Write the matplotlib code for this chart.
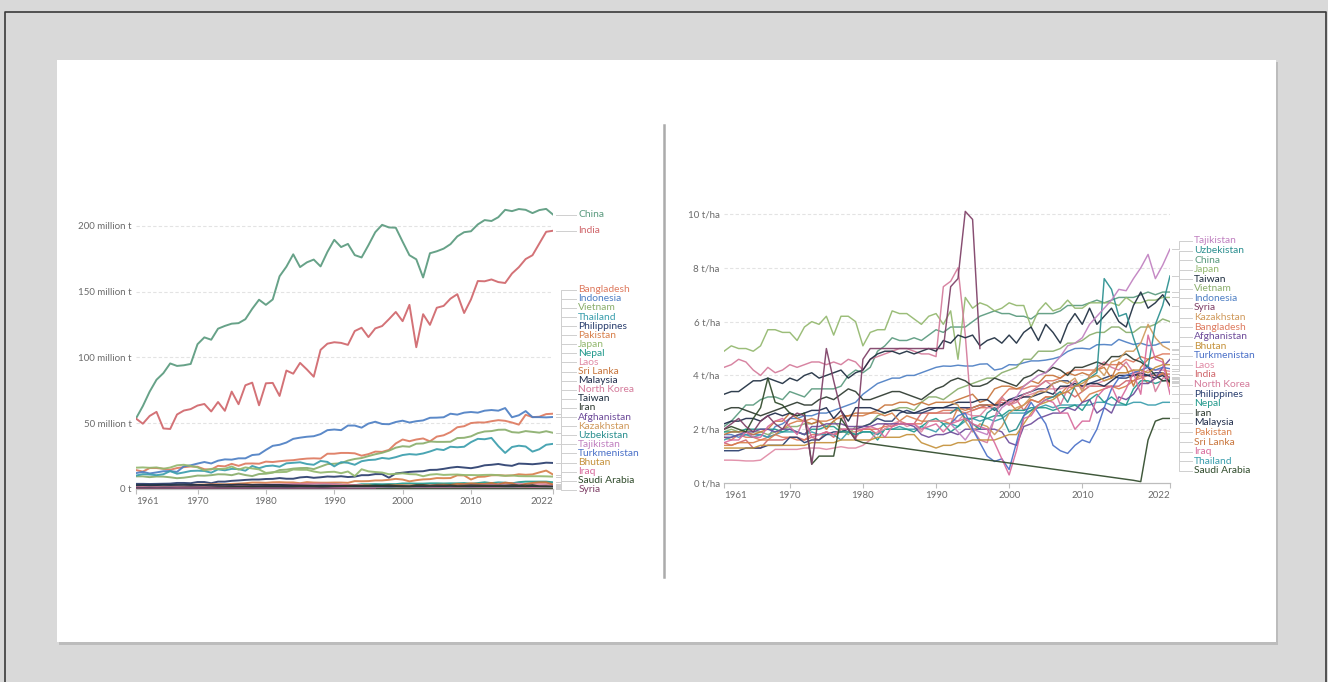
import numpy as np
import matplotlib
matplotlib.use('Agg')
import matplotlib.pyplot as plt
from matplotlib.patches import Rectangle
from matplotlib.lines import Line2D

plt.rcParams['font.family'] = ['Lato', 'DejaVu Sans']

YEARS = list(range(1961, 2023))
_ = None

# ---- rice production, million tonnes (1961 ... 2022) ----
prod_china = [53.6, 63.0, 74.0, 83.0, 88.0, 95.4, 93.5, 94.0, 95.0, 110.0,
              115.2, 113.4, 121.8, 123.9, 125.6, 126.0, 129.0, 136.9, 143.8, 139.9,
              144.0, 161.6, 168.9, 178.3, 168.6, 172.2, 174.3, 169.1, 180.1, 189.3,
              183.8, 186.2, 177.7, 175.9, 185.2, 195.1, 200.7, 198.7, 198.5, 187.9,
              177.6, 174.5, 160.7, 179.1, 180.6, 182.6, 186.0, 191.9, 195.1, 195.8,
              201.0, 204.3, 203.6, 206.5, 212.1, 211.1, 212.7, 212.1, 209.6, 211.9,
              212.8, 208.5]
prod_india = [53.5, 49.6, 55.5, 58.6, 46.0, 45.6, 56.6, 59.6, 60.7, 63.4,
              64.6, 58.9, 66.1, 59.4, 74.0, 64.4, 78.8, 80.8, 63.6, 80.3,
              80.6, 70.7, 90.0, 87.6, 95.8, 90.8, 85.3, 105.7, 110.4, 111.5,
              111.0, 109.5, 120.0, 122.5, 115.4, 122.0, 123.8, 129.0, 134.5, 127.5,
              139.9, 107.7, 132.8, 124.7, 137.7, 139.1, 144.6, 148.0, 133.7, 144.0,
              158.0, 157.8, 159.2, 157.2, 156.5, 163.7, 168.5, 174.7, 177.6, 186.5,
              195.4, 196.2]
prod_bangladesh = [14.4, 13.2, 15.9, 15.9, 15.4, 14.6, 15.9, 16.6, 17.1, 16.9,
                   15.0, 14.8, 17.6, 17.2, 19.1, 17.6, 19.3, 19.4, 19.2, 20.8,
                   20.5, 21.1, 21.6, 21.9, 22.6, 23.1, 23.3, 23.1, 26.8, 26.8,
                   27.4, 27.4, 27.1, 25.3, 26.5, 28.4, 28.2, 29.7, 34.6, 37.6,
                   36.3, 37.6, 38.4, 36.2, 39.8, 40.8, 43.2, 46.9, 47.7, 50.1,
                   50.6, 50.5, 51.5, 52.3, 51.8, 50.5, 48.9, 56.4, 54.6, 54.9,
                   56.9, 57.2]
prod_indonesia = [12.1, 13.0, 11.8, 12.6, 13.5, 13.6, 13.0, 17.2, 18.0, 19.3,
                  20.5, 19.4, 21.5, 22.5, 22.3, 23.3, 23.3, 25.8, 26.3, 29.7,
                  32.8, 33.6, 35.3, 38.1, 39.0, 39.7, 40.1, 41.7, 44.7, 45.2,
                  44.7, 48.2, 48.2, 46.6, 49.7, 51.1, 49.4, 49.2, 50.9, 51.9,
                  50.5, 51.5, 52.1, 54.1, 54.2, 54.5, 57.2, 56.5, 58.0, 58.5,
                  58.0, 59.5, 60.0, 59.5, 61.5, 54.5, 56.0, 59.2, 54.6, 54.6,
                  54.4, 54.7]
prod_vietnam = [9.6, 9.6, 9.0, 9.5, 9.4, 8.9, 8.2, 8.6, 9.3, 10.2,
                10.1, 10.5, 11.2, 11.1, 10.5, 11.8, 10.6, 9.8, 11.4, 11.6,
                12.4, 14.4, 14.7, 15.5, 15.9, 16.0, 15.1, 17.0, 18.9, 19.2,
                19.6, 21.6, 22.8, 23.5, 25.0, 26.4, 27.5, 29.1, 31.4, 32.5,
                32.1, 34.4, 34.6, 36.1, 35.8, 35.8, 35.9, 38.7, 38.9, 40.0,
                42.4, 43.7, 44.0, 45.0, 45.1, 43.2, 42.8, 44.0, 43.4, 42.8,
                43.9, 42.7]
prod_thailand = [10.2, 11.3, 11.0, 10.5, 11.2, 13.6, 11.6, 12.6, 13.7, 13.9,
                 13.7, 12.4, 14.9, 14.2, 15.3, 15.1, 13.9, 17.5, 15.8, 17.4,
                 17.8, 16.9, 19.5, 19.9, 20.3, 19.0, 18.4, 21.3, 20.6, 17.2,
                 20.4, 19.9, 18.4, 21.1, 22.0, 22.3, 23.6, 23.0, 24.2, 25.8,
                 26.5, 26.1, 27.0, 28.5, 30.3, 29.6, 32.1, 31.7, 32.1, 35.6,
                 38.1, 37.8, 38.8, 32.6, 27.4, 31.9, 32.9, 32.3, 28.4, 30.2,
                 33.6, 34.3]
prod_philippines = [3.9, 3.9, 3.8, 3.9, 4.0, 4.1, 4.6, 4.6, 4.4, 5.3,
                    5.3, 4.4, 5.6, 5.6, 6.2, 6.5, 6.9, 7.2, 7.2, 7.6,
                    7.7, 8.3, 7.8, 7.8, 8.8, 9.2, 8.5, 8.9, 9.5, 9.3,
                    9.7, 9.1, 9.4, 10.5, 10.5, 11.3, 11.3, 8.6, 11.8, 12.4,
                    13.0, 13.3, 13.5, 14.5, 14.6, 15.3, 16.2, 16.8, 16.3, 15.8,
                    16.7, 18.0, 18.4, 19.0, 18.1, 17.6, 19.3, 19.1, 18.8, 19.3,
                    20.0, 19.8]
prod_pakistan = [1.7, 1.7, 1.9, 1.9, 2.0, 2.0, 2.0, 2.4, 3.0, 3.3,
                 3.4, 3.5, 3.7, 3.5, 3.9, 4.1, 4.4, 4.9, 4.9, 4.7,
                 5.1, 5.2, 5.0, 5.0, 4.4, 5.2, 4.9, 4.8, 4.8, 4.9,
                 4.9, 4.7, 6.0, 5.9, 6.0, 6.5, 6.5, 7.0, 7.7, 7.2,
                 5.8, 6.7, 7.3, 7.5, 8.3, 8.2, 8.3, 10.4, 10.3, 7.2,
                 9.2, 9.4, 10.4, 10.5, 10.2, 10.3, 11.2, 10.8, 11.1, 12.6,
                 14.0, 11.0]
prod_japan = [16.2, 16.4, 16.1, 16.4, 15.4, 16.3, 18.0, 18.4, 17.5, 16.5,
              14.1, 15.3, 15.2, 15.4, 17.1, 14.7, 16.4, 15.6, 14.9, 12.2,
              12.8, 12.8, 13.0, 14.8, 14.6, 14.6, 13.3, 12.4, 12.9, 13.1,
              12.0, 13.3, 9.8, 15.0, 13.4, 12.9, 12.5, 11.2, 11.5, 11.9,
              11.3, 11.1, 9.7, 10.9, 11.3, 10.7, 10.9, 11.0, 10.6, 10.6,
              10.5, 10.7, 10.8, 10.5, 10.0, 10.3, 9.8, 9.7, 9.7, 9.7,
              9.6, 9.4]
prod_nepal = [2.0, 2.1, 2.1, 2.2, 2.2, 2.2, 2.2, 2.3, 2.2, 2.3,
              2.2, 2.1, 2.4, 2.4, 2.6, 2.6, 2.2, 2.3, 2.1, 2.5,
              2.5, 2.1, 2.8, 2.7, 2.8, 2.7, 2.4, 3.0, 3.4, 3.5,
              3.2, 2.6, 2.9, 3.6, 3.6, 3.7, 3.6, 3.7, 3.7, 4.2,
              4.2, 4.1, 4.1, 4.3, 4.3, 4.2, 4.3, 4.3, 4.5, 4.0,
              4.5, 5.1, 4.5, 5.0, 4.8, 4.3, 5.2, 5.6, 5.6, 5.6,
              5.6, 5.1]
prod_laos = [0.5, 0.5, 0.5, 0.5, 0.6, 0.6, 0.8, 0.9, 0.9, 0.9,
             0.8, 0.8, 0.9, 0.9, 0.7, 0.7, 0.7, 0.8, 0.9, 1.0,
             1.1, 1.1, 1.0, 1.3, 1.3, 1.4, 1.2, 1.0, 1.2, 1.5,
             1.2, 1.4, 1.3, 1.6, 1.4, 1.4, 1.7, 1.7, 2.1, 2.2,
             2.3, 2.4, 2.4, 2.5, 2.6, 2.7, 2.7, 2.9, 3.1, 3.1,
             3.1, 3.5, 3.4, 4.0, 4.1, 4.1, 4.0, 3.6, 3.6, 3.8,
             3.8, 3.6]
prod_srilanka = [0.9, 1.0, 1.0, 1.0, 0.8, 1.0, 1.1, 1.4, 1.4, 1.6,
                 1.4, 1.3, 1.3, 1.6, 1.2, 1.3, 1.7, 1.9, 1.9, 2.1,
                 2.2, 2.2, 2.5, 2.4, 2.7, 2.6, 2.1, 2.5, 2.1, 2.5,
                 2.4, 2.3, 2.6, 2.7, 2.8, 2.1, 2.2, 2.7, 2.9, 2.9,
                 2.7, 2.9, 3.1, 2.6, 3.2, 3.3, 3.1, 3.9, 3.7, 4.3,
                 3.9, 3.8, 4.6, 3.4, 4.8, 4.4, 2.4, 3.9, 4.6, 5.1,
                 5.1, 3.4]
prod_malaysia = [1.1, 1.1, 1.1, 1.2, 1.2, 1.2, 1.3, 1.4, 1.6, 1.7,
                 1.8, 1.8, 1.9, 2.0, 2.0, 1.7, 1.9, 1.5, 2.1, 2.0,
                 2.1, 1.8, 1.6, 1.7, 1.8, 1.7, 1.7, 1.7, 1.8, 1.9,
                 1.9, 2.0, 2.1, 2.1, 2.1, 2.2, 2.1, 1.9, 2.0, 2.1,
                 2.1, 2.2, 2.3, 2.3, 2.3, 2.2, 2.4, 2.4, 2.5, 2.5,
                 2.6, 2.6, 2.6, 2.6, 2.7, 2.7, 2.6, 2.6, 2.3, 2.3,
                 2.4, 2.3]
prod_northkorea = [1.5, 1.6, 1.8, 1.7, 1.9, 1.9, 2.1, 2.0, 2.2, 2.3,
                   2.3, 2.5, 2.6, 2.6, 2.8, 2.9, 3.1, 3.0, 3.2, 3.3,
                   3.4, 3.5, 3.6, 3.8, 3.9, 3.9, 4.0, 4.1, 4.0, 3.7,
                   3.4, 3.2, 3.0, 2.8, 1.5, 1.4, 1.5, 2.1, 2.3, 1.7,
                   2.1, 2.2, 2.3, 2.4, 2.5, 2.4, 1.9, 2.2, 2.5, 2.4,
                   2.4, 2.7, 2.9, 2.6, 2.5, 2.6, 2.3, 2.3, 2.1, 2.1,
                   2.1, 2.0]
prod_taiwan = [2.9, 3.0, 2.9, 3.0, 3.2, 3.1, 3.2, 3.3, 3.1, 3.1,
               3.0, 3.1, 3.1, 3.2, 3.1, 3.4, 3.3, 3.1, 3.2, 3.1,
               3.1, 3.1, 2.9, 2.7, 2.6, 2.5, 2.5, 2.3, 2.3, 2.3,
               2.3, 2.1, 2.3, 2.1, 2.1, 2.1, 2.1, 1.9, 2.0, 1.9,
               1.7, 1.8, 1.6, 1.4, 1.5, 1.6, 1.4, 1.5, 1.6, 1.5,
               1.7, 1.7, 1.6, 1.7, 1.6, 1.6, 1.8, 1.6, 1.7, 1.6,
               1.5, 1.6]
prod_iran = [0.8, 0.8, 0.9, 0.9, 1.0, 1.0, 1.0, 1.1, 1.2, 1.1,
             1.0, 1.1, 1.3, 1.4, 1.5, 1.7, 1.6, 1.5, 1.4, 1.3,
             1.5, 1.4, 1.2, 1.5, 1.8, 1.8, 1.8, 1.4, 1.7, 2.0,
             2.3, 2.4, 2.5, 2.3, 2.3, 2.7, 2.6, 2.8, 2.3, 1.9,
             2.0, 2.9, 2.9, 2.5, 2.7, 2.6, 2.7, 2.2, 2.3, 2.7,
             2.4, 2.4, 2.5, 2.3, 2.3, 2.8, 2.4, 2.2, 2.9, 2.0,
             2.0, 1.5]
prod_afghanistan = [0.32, 0.32, 0.33, 0.35, 0.36, 0.38, 0.40, 0.38, 0.40, 0.42,
                    0.38, 0.36, 0.42, 0.44, 0.44, 0.45, 0.46, 0.43, 0.44, 0.45,
                    0.45, 0.46, 0.45, 0.45, 0.44, 0.42, 0.40, 0.35, 0.33, 0.33,
                    0.32, 0.33, 0.34, 0.40, 0.42, 0.45, 0.46, 0.45, 0.29, 0.23,
                    0.19, 0.39, 0.43, 0.39, 0.46, 0.53, 0.55, 0.64, 0.63, 0.67,
                    0.67, 0.51, 0.51, 0.51, 0.41, 0.36, 0.35, 0.35, 0.38, 0.45,
                    0.46, 0.50]
prod_kazakhstan = [_] * 31 + [
                   0.50, 0.52, 0.36, 0.22, 0.29, 0.26, 0.20, 0.21, 0.20,
                   0.20, 0.22, 0.29, 0.30, 0.36, 0.33, 0.36, 0.37, 0.39, 0.31,
                   0.35, 0.39, 0.34, 0.41, 0.46, 0.48, 0.48, 0.51, 0.47, 0.56,
                   0.50, 0.45]
prod_uzbekistan = [_] * 31 + [
                   0.52, 0.53, 0.52, 0.38, 0.35, 0.40, 0.42, 0.26, 0.15,
                   0.12, 0.18, 0.17, 0.20, 0.23, 0.22, 0.22, 0.17, 0.22, 0.19,
                   0.15, 0.25, 0.33, 0.34, 0.36, 0.40, 0.36, 0.12, 0.30, 0.35,
                   0.33, 0.33]
prod_tajikistan = [_] * 31 + [
                   0.04, 0.03, 0.02, 0.04, 0.04, 0.03, 0.03, 0.04, 0.05,
                   0.05, 0.05, 0.05, 0.06, 0.06, 0.06, 0.06, 0.08, 0.08, 0.09,
                   0.08, 0.08, 0.08, 0.09, 0.09, 0.09, 0.10, 0.11, 0.12, 0.13,
                   0.13, 0.12]
prod_turkmenistan = [_] * 31 + [
                     0.04, 0.07, 0.09, 0.10, 0.13, 0.08, 0.05, 0.04, 0.04,
                     0.05, 0.06, 0.07, 0.09, 0.10, 0.10, 0.11, 0.12, 0.12, 0.13,
                     0.13, 0.14, 0.12, 0.11, 0.10, 0.10, 0.10, 0.09, 0.09, 0.09,
                     0.09, 0.09]
prod_bhutan = [0.03, 0.03, 0.03, 0.03, 0.03, 0.04, 0.04, 0.04, 0.04, 0.04,
               0.04, 0.04, 0.04, 0.05, 0.05, 0.05, 0.05, 0.05, 0.06, 0.06,
               0.06, 0.06, 0.06, 0.06, 0.07, 0.07, 0.07, 0.05, 0.05, 0.05,
               0.05, 0.05, 0.05, 0.05, 0.05, 0.05, 0.05, 0.05, 0.05, 0.05,
               0.04, 0.04, 0.04, 0.05, 0.06, 0.06, 0.07, 0.07, 0.07, 0.07,
               0.08, 0.08, 0.08, 0.08, 0.08, 0.08, 0.07, 0.06, 0.06, 0.05,
               0.05, 0.06]
prod_iraq = [0.12, 0.14, 0.15, 0.22, 0.18, 0.18, 0.30, 0.31, 0.32, 0.26,
             0.20, 0.29, 0.16, 0.17, 0.19, 0.16, 0.20, 0.17, 0.17, 0.17,
             0.16, 0.16, 0.10, 0.13, 0.15, 0.13, 0.14, 0.11, 0.13, 0.23,
             0.19, 0.39, 0.34, 0.37, 0.35, 0.34, 0.29, 0.15, 0.07, 0.12,
             0.13, 0.26, 0.28, 0.38, 0.41, 0.38, 0.36, 0.21, 0.19, 0.16,
             0.24, 0.36, 0.45, 0.40, 0.17, 0.19, 0.39, 0.21, 0.56, 0.33,
             0.12, 0.04]
prod_saudi = [0.002, 0.002, 0.002, 0.002, 0.003, 0.003, 0.003, 0.003, 0.003, 0.003,
              0.002, 0.002, 0.001, 0.002, 0.002, 0.002, 0.002, 0.002, 0.002, 0.002,
              0.002, 0.002, 0.002, 0.002, 0.002, 0.002, 0.002, 0.002, 0.002, 0.002,
              0.002, 0.002, 0.002, 0.002, 0.002, 0.002, 0.002, 0.002, 0.002, 0.002,
              0.002, 0.002, 0.002, 0.002, 0.002, 0.002, 0.002, 0.002, 0.002, 0.002,
              0.002, 0.002, 0.002, 0.002, 0.002, 0.002, 0.001, 0.001, 0.002, 0.002,
              0.002, 0.002]
prod_syria = [0.001, 0.001, 0.001, 0.001, 0.001, 0.001, 0.001, 0.001, 0.001, 0.001,
              0.001, 0.001, 0.001, 0.001, 0.001, 0.001, 0.001, 0.001, 0.001, 0.001,
              0.001, 0.001, 0.001, 0.001, 0.001, 0.001, 0.001, 0.001, 0.001, 0.001,
              0.001, 0.001, 0.001, 0.001, 0.001, 0.001] + [_] * 26

# ---- rice yield, tonnes per hectare (1961 ... 2022) ----
yield_china = [2.1, 2.3, 2.6, 2.9, 2.9, 3.1, 3.2, 3.2, 3.1, 3.4,
               3.3, 3.2, 3.5, 3.5, 3.5, 3.5, 3.6, 4.0, 4.2, 4.1,
               4.3, 4.9, 5.1, 5.4, 5.3, 5.3, 5.4, 5.3, 5.5, 5.7,
               5.6, 5.8, 5.8, 5.8, 6.0, 6.2, 6.3, 6.4, 6.3, 6.3,
               6.2, 6.2, 6.1, 6.3, 6.3, 6.3, 6.4, 6.6, 6.6, 6.6,
               6.7, 6.8, 6.7, 6.8, 6.9, 6.9, 6.9, 7.0, 7.1, 7.0,
               7.1, 7.1]
yield_japan = [4.9, 5.1, 5.0, 5.0, 4.9, 5.1, 5.7, 5.7, 5.6, 5.6,
               5.3, 5.8, 6.0, 5.9, 6.2, 5.5, 6.2, 6.2, 6.0, 5.1,
               5.6, 5.7, 5.7, 6.4, 6.3, 6.3, 6.1, 5.9, 6.2, 6.3,
               5.9, 6.4, 4.6, 6.9, 6.5, 6.7, 6.6, 6.4, 6.5, 6.7,
               6.6, 6.6, 5.8, 6.4, 6.7, 6.4, 6.5, 6.8, 6.5, 6.5,
               6.7, 6.7, 6.7, 6.7, 6.6, 6.9, 6.7, 6.7, 6.8, 6.8,
               6.9, 6.9]
yield_taiwan = [3.3, 3.4, 3.4, 3.6, 3.8, 3.8, 3.9, 3.8, 3.7, 3.9,
                3.8, 4.0, 4.1, 3.9, 4.0, 4.1, 4.2, 3.9, 4.1, 4.2,
                4.6, 4.8, 4.9, 4.9, 4.8, 4.9, 4.8, 4.9, 5.0, 4.9,
                5.3, 5.2, 5.5, 5.4, 5.5, 5.1, 5.3, 5.4, 5.2, 5.5,
                5.2, 5.6, 5.8, 5.3, 5.9, 5.6, 5.2, 5.9, 6.3, 5.9,
                6.5, 5.9, 6.2, 6.5, 6.0, 5.8, 6.6, 7.1, 6.5, 6.7,
                7.0, 6.6]
yield_vietnam = [1.9, 2.0, 1.9, 2.0, 1.9, 1.9, 1.8, 1.9, 2.0, 2.1,
                 2.1, 2.2, 2.2, 2.3, 2.1, 2.3, 2.0, 1.8, 2.1, 2.1,
                 2.2, 2.5, 2.6, 2.7, 2.8, 2.8, 2.7, 3.0, 3.2, 3.2,
                 3.1, 3.3, 3.5, 3.6, 3.7, 3.8, 3.9, 3.9, 4.1, 4.2,
                 4.3, 4.6, 4.6, 4.9, 4.9, 4.9, 5.0, 5.2, 5.2, 5.3,
                 5.5, 5.6, 5.6, 5.8, 5.8, 5.6, 5.6, 5.8, 5.8, 5.9,
                 6.1, 6.0]
yield_indonesia = [1.8, 1.8, 1.7, 1.8, 1.8, 1.8, 1.7, 2.1, 2.2, 2.4,
                   2.4, 2.5, 2.5, 2.6, 2.6, 2.7, 2.8, 2.9, 3.0, 3.3,
                   3.5, 3.7, 3.8, 3.9, 3.9, 4.0, 4.0, 4.1, 4.2, 4.3,
                   4.35, 4.34, 4.38, 4.35, 4.35, 4.42, 4.43, 4.2, 4.25, 4.4,
                   4.39, 4.47, 4.54, 4.54, 4.57, 4.62, 4.7, 4.89, 5.0, 5.01,
                   4.98, 5.14, 5.15, 5.13, 5.34, 5.24, 5.15, 5.2, 5.11, 5.13,
                   5.23, 5.24]
yield_tajikistan = [_] * 31 + [
                    2.2, 1.9, 1.6, 2.0, 1.9, 1.8, 2.4, 2.8, 3.0,
                    3.2, 3.6, 3.8, 4.0, 4.1, 4.4, 4.7, 5.1, 5.2, 5.4,
                    5.9, 6.2, 6.5, 6.8, 7.2, 7.15, 7.6, 8.0, 8.5, 7.6,
                    8.1, 8.7]
yield_uzbekistan = [_] * 31 + [
                    2.6, 2.8, 2.4, 2.2, 2.0, 2.6, 2.8, 2.5, 1.9,
                    2.0, 2.5, 2.7, 2.9, 3.1, 3.2, 3.4, 3.0, 3.6, 3.8,
                    3.9, 4.1, 7.6, 7.2, 6.2, 6.3, 5.4, 4.6, 4.3, 5.9,
                    6.6, 7.7]
yield_syria = [2.0, 2.2, 2.4, 2.1, 1.9, 2.3, 2.5, 2.2, 2.0, 2.4,
               2.6, 2.5, 0.7, 2.6, 5.0, 3.8, 2.7, 2.0, 1.6, 4.6,
               5.0, 5.0, 5.0, 5.0, 5.0, 5.0, 5.0, 5.0, 5.0, 5.0,
               5.0, 7.3, 7.6, 10.1, 9.8, 5.0] + [_] * 26
yield_kazakhstan = [_] * 31 + [
                    3.0, 2.9, 2.3, 1.9, 2.2, 2.1, 1.8, 2.1, 2.6,
                    2.8, 2.9, 3.2, 3.4, 3.4, 3.7, 3.8, 3.7, 3.9, 3.4,
                    4.0, 4.3, 4.0, 4.5, 4.6, 4.9, 4.9, 5.2, 5.9, 5.4,
                    5.1, 4.95]
yield_bangladesh = [1.7, 1.6, 1.8, 1.7, 1.7, 1.6, 1.7, 1.8, 1.7, 1.7,
                    1.6, 1.6, 1.8, 1.8, 1.9, 1.8, 1.9, 1.9, 1.9, 2.0,
                    2.0, 2.0, 2.1, 2.1, 2.2, 2.2, 2.2, 2.2, 2.6, 2.6,
                    2.7, 2.7, 2.7, 2.6, 2.7, 2.8, 2.8, 2.9, 3.2, 3.5,
                    3.5, 3.5, 3.6, 3.6, 3.8, 3.8, 3.9, 4.1, 4.2, 4.2,
                    4.2, 4.2, 4.4, 4.4, 4.4, 4.6, 4.5, 4.7, 4.6, 4.7,
                    4.8, 4.8]
yield_afghanistan = [1.7, 1.7, 1.8, 1.9, 1.9, 2.0, 2.0, 1.9, 2.0, 2.0,
                     1.9, 1.8, 2.1, 2.1, 2.2, 2.2, 2.2, 2.1, 2.1, 2.1,
                     2.1, 2.2, 2.2, 2.2, 2.2, 2.2, 2.1, 1.8, 1.7, 1.8,
                     1.8, 1.9, 1.8, 2.0, 2.0, 2.0, 2.0, 2.0, 1.9, 1.5,
                     1.4, 2.1, 2.2, 2.4, 2.5, 2.6, 2.6, 2.8, 2.7, 3.0,
                     3.1, 2.6, 2.8, 2.6, 3.2, 3.1, 3.3, 3.7, 3.7, 3.9,
                     4.3, 4.6]
yield_bhutan = [1.3, 1.3, 1.3, 1.3, 1.3, 1.4, 1.4, 1.4, 1.4, 1.4,
                1.4, 1.4, 1.5, 1.5, 1.5, 1.5, 1.6, 1.6, 1.6, 1.6,
                1.6, 1.7, 1.7, 1.7, 1.7, 1.8, 1.8, 1.5, 1.4, 1.3,
                1.4, 1.4, 1.5, 1.5, 1.6, 1.6, 1.6, 1.6, 1.7, 1.8,
                1.8, 2.2, 2.6, 2.9, 3.0, 3.1, 3.3, 3.4, 3.6, 3.7,
                3.9, 4.0, 3.8, 3.9, 4.1, 4.1, 4.2, 4.2, 4.1, 4.3,
                4.4, 4.4]
yield_turkmenistan = [_] * 31 + [
                      2.2, 2.5, 2.6, 2.0, 1.5, 1.0, 0.8, 0.9, 0.5,
                      1.5, 2.5, 3.0, 2.6, 2.2, 1.4, 1.2, 1.1, 1.4, 1.6,
                      1.5, 2.0, 2.8, 3.5, 3.9, 4.0, 4.1, 4.2, 4.3, 4.2,
                      4.3, 4.25]
yield_laos = [0.85, 0.85, 0.84, 0.82, 0.82, 0.85, 1.05, 1.25, 1.25, 1.25,
              1.25, 1.3, 1.3, 1.3, 1.25, 1.3, 1.35, 1.3, 1.3, 1.4,
              1.6, 1.9, 2.0, 2.2, 2.3, 2.1, 2.2, 1.9, 2.3, 2.3,
              2.3, 2.4, 2.3, 2.6, 2.5, 2.5, 2.8, 2.8, 2.9, 3.0,
              3.1, 3.2, 3.3, 3.4, 3.5, 3.5, 3.5, 3.6, 3.6, 3.6,
              3.6, 3.7, 3.8, 3.9, 4.1, 4.1, 4.2, 4.0, 4.2, 4.2,
              4.2, 4.15]
yield_india = [1.5, 1.4, 1.5, 1.6, 1.3, 1.3, 1.6, 1.6, 1.6, 1.7,
               1.7, 1.6, 1.7, 1.6, 1.9, 1.7, 2.0, 2.0, 1.7, 2.0,
               2.0, 1.8, 2.2, 2.1, 2.3, 2.2, 2.2, 2.6, 2.6, 2.6,
               2.6, 2.6, 2.8, 2.8, 2.7, 2.8, 2.9, 2.9, 3.0, 2.9,
               3.1, 2.7, 3.1, 3.0, 3.2, 3.2, 3.3, 3.4, 3.2, 3.4,
               3.6, 3.6, 3.6, 3.6, 3.6, 3.8, 3.8, 3.9, 4.0, 4.0,
               4.05, 4.05]
yield_northkorea = [4.3, 4.4, 4.6, 4.5, 4.2, 4.0, 4.3, 4.1, 4.2, 4.4,
                    4.3, 4.4, 4.5, 4.5, 4.4, 4.5, 4.4, 4.6, 4.5, 4.2,
                    4.6, 4.7, 4.8, 4.9, 5.0, 5.0, 4.9, 4.8, 4.8, 4.7,
                    7.3, 7.5, 8.0, 5.5, 2.0, 1.6, 1.5, 2.4, 3.2, 2.9,
                    3.0, 3.3, 3.4, 3.6, 3.8, 3.6, 2.9, 3.5, 3.8, 3.5,
                    4.0, 4.3, 4.5, 4.3, 4.2, 4.5, 4.1, 4.1, 4.4, 3.4,
                    3.9, 3.95]
yield_philippines = [1.2, 1.2, 1.2, 1.3, 1.3, 1.3, 1.4, 1.4, 1.4, 1.7,
                     1.7, 1.5, 1.6, 1.6, 1.8, 1.9, 1.9, 2.0, 2.0, 2.1,
                     2.2, 2.4, 2.3, 2.3, 2.6, 2.7, 2.6, 2.6, 2.7, 2.8,
                     2.8, 2.8, 2.8, 2.8, 2.8, 2.9, 2.9, 2.7, 2.9, 3.1,
                     3.2, 3.3, 3.4, 3.5, 3.5, 3.7, 3.8, 3.8, 3.6, 3.6,
                     3.7, 3.8, 3.9, 4.0, 3.9, 3.9, 4.0, 4.0, 4.0, 4.1,
                     4.1, 3.9]
yield_nepal = [1.9, 1.9, 1.9, 2.0, 2.0, 2.0, 2.0, 2.0, 1.9, 2.0,
               1.9, 1.8, 2.0, 2.0, 2.1, 2.1, 1.9, 1.9, 1.8, 1.9,
               1.9, 1.6, 2.0, 2.0, 2.0, 2.0, 1.9, 2.1, 2.3, 2.4,
               2.2, 1.9, 2.1, 2.4, 2.4, 2.5, 2.4, 2.5, 2.5, 2.7,
               2.7, 2.7, 2.8, 2.8, 2.8, 2.7, 2.8, 2.8, 2.9, 2.7,
               3.1, 3.3, 3.0, 3.2, 3.0, 2.9, 3.5, 3.8, 3.8, 3.7,
               3.8, 3.85]
yield_iran = [2.7, 2.8, 2.8, 2.7, 2.6, 2.5, 2.6, 2.7, 2.8, 2.9,
              3.0, 2.9, 2.9, 3.1, 3.2, 3.1, 3.3, 3.5, 3.4, 3.1,
              3.1, 3.2, 3.3, 3.4, 3.4, 3.3, 3.2, 3.1, 3.3, 3.5,
              3.6, 3.8, 3.9, 3.8, 3.6, 3.6, 3.7, 3.9, 3.8, 3.7,
              3.6, 3.9, 4.0, 4.2, 4.1, 4.3, 4.2, 4.0, 4.3, 4.3,
              4.4, 4.5, 4.4, 4.7, 4.7, 4.8, 4.6, 4.5, 4.3, 4.0,
              3.8, 3.8]
yield_malaysia = [2.2, 2.3, 2.3, 2.4, 2.4, 2.3, 2.5, 2.6, 2.5, 2.6,
                  2.5, 2.6, 2.7, 2.7, 2.8, 2.4, 2.7, 2.3, 2.8, 2.8,
                  2.8, 2.7, 2.6, 2.7, 2.7, 2.6, 2.6, 2.7, 2.8, 2.8,
                  2.8, 2.9, 3.0, 3.0, 3.0, 3.1, 3.1, 2.9, 2.9, 3.1,
                  3.1, 3.2, 3.2, 3.3, 3.4, 3.3, 3.6, 3.6, 3.7, 3.6,
                  3.7, 3.7, 3.6, 3.8, 4.0, 4.0, 4.0, 4.1, 4.0, 3.9,
                  4.0, 3.75]
yield_pakistan = [1.4, 1.4, 1.5, 1.5, 1.5, 1.6, 1.6, 1.8, 2.0, 2.2,
                  2.3, 2.3, 2.4, 2.3, 2.3, 2.4, 2.4, 2.5, 2.5, 2.5,
                  2.6, 2.6, 2.5, 2.6, 2.3, 2.5, 2.4, 2.3, 2.3, 2.3,
                  2.3, 2.2, 2.8, 2.7, 2.8, 2.9, 2.9, 2.9, 3.1, 3.0,
                  2.7, 2.9, 3.1, 3.0, 3.2, 3.2, 3.3, 3.6, 3.5, 3.0,
                  3.3, 3.4, 3.5, 3.6, 3.5, 3.6, 3.8, 4.0, 3.7, 3.9,
                  4.1, 3.7]
yield_srilanka = [1.8, 1.9, 1.9, 1.9, 1.8, 1.9, 2.0, 2.3, 2.3, 2.6,
                  2.4, 2.3, 2.2, 2.3, 2.0, 2.3, 2.5, 2.5, 2.6, 2.6,
                  2.6, 2.7, 2.9, 2.9, 3.0, 3.0, 2.9, 3.0, 2.9, 3.0,
                  3.0, 3.0, 3.1, 3.2, 3.3, 3.0, 3.1, 3.5, 3.6, 3.6,
                  3.5, 3.6, 3.8, 3.7, 4.0, 4.0, 3.9, 4.1, 4.0, 4.1,
                  4.0, 4.2, 4.3, 3.9, 4.5, 4.3, 3.6, 4.3, 4.6, 4.7,
                  4.6, 3.6]
yield_iraq = [1.5, 1.6, 1.6, 1.9, 1.7, 1.7, 2.1, 2.3, 2.4, 2.1,
              1.8, 2.4, 1.7, 1.8, 1.9, 1.8, 2.0, 2.0, 2.0, 2.0,
              2.1, 2.0, 1.7, 2.1, 2.2, 2.2, 2.2, 2.0, 2.1, 2.2,
              1.9, 2.2, 2.3, 2.4, 2.2, 2.1, 2.0, 1.5, 0.9, 0.3,
              1.2, 2.4, 2.5, 2.9, 3.1, 3.0, 2.6, 2.6, 2.0, 2.3,
              2.3, 3.2, 3.5, 3.6, 3.0, 3.5, 4.1, 3.3, 5.5, 4.6,
              4.5, 3.3]
yield_thailand = [1.6, 1.7, 1.8, 1.8, 1.7, 1.8, 1.7, 1.8, 1.9, 1.9,
                  1.9, 1.8, 1.9, 1.8, 1.8, 1.8, 1.6, 1.9, 1.8, 1.9,
                  1.9, 1.8, 2.0, 2.0, 2.1, 2.0, 2.0, 2.1, 2.0, 1.9,
                  2.2, 2.2, 2.1, 2.3, 2.4, 2.3, 2.4, 2.3, 2.4, 2.6,
                  2.6, 2.6, 2.7, 2.8, 2.9, 2.8, 2.9, 2.9, 2.9, 2.9,
                  2.9, 3.0, 3.0, 2.9, 2.9, 2.9, 3.0, 3.0, 2.9, 2.9,
                  3.0, 3.0]
yield_saudi = [2.0, 2.1, 2.0, 1.9, 2.4, 2.8, 3.9, 3.0, 2.9, 2.6,
               2.5, 2.6, 0.7, 1.0, 1.0, 1.0, 2.4, 2.0, 1.6, 1.5] + [_] * 36 + [
               0.1, 0.05, 1.6, 2.3, 2.4, 2.4]

COUNTRIES = ['China', 'India', 'Bangladesh', 'Indonesia', 'Vietnam', 'Thailand',
             'Philippines', 'Pakistan', 'Japan', 'Nepal', 'Laos', 'Sri Lanka',
             'Malaysia', 'North Korea', 'Taiwan', 'Iran', 'Afghanistan', 'Kazakhstan',
             'Uzbekistan', 'Tajikistan', 'Turkmenistan', 'Bhutan', 'Iraq',
             'Saudi Arabia', 'Syria']

PRODUCTION = [prod_china, prod_india, prod_bangladesh, prod_indonesia, prod_vietnam,
              prod_thailand, prod_philippines, prod_pakistan, prod_japan, prod_nepal,
              prod_laos, prod_srilanka, prod_malaysia, prod_northkorea, prod_taiwan,
              prod_iran, prod_afghanistan, prod_kazakhstan, prod_uzbekistan,
              prod_tajikistan, prod_turkmenistan, prod_bhutan, prod_iraq, prod_saudi,
              prod_syria]
YIELDS = [yield_china, yield_india, yield_bangladesh, yield_indonesia, yield_vietnam,
          yield_thailand, yield_philippines, yield_pakistan, yield_japan, yield_nepal,
          yield_laos, yield_srilanka, yield_malaysia, yield_northkorea, yield_taiwan,
          yield_iran, yield_afghanistan, yield_kazakhstan, yield_uzbekistan,
          yield_tajikistan, yield_turkmenistan, yield_bhutan, yield_iraq, yield_saudi,
          yield_syria]

COLORS = ['#5A9A7E', '#D0666B', '#DE7A5F', '#4D7FC4', '#8AAE6C', '#3A9EAD',
          '#2A3E6E', '#D8804C', '#93B86E', '#21998C', '#E08AA5', '#C8753C',
          '#1E2B4A', '#D47A9A', '#1E2E40', '#2E3A30', '#6E4C9A', '#D09A5C',
          '#2A8F8F', '#C080C0', '#4A70C8', '#C5923C', '#D86A9C', '#2F4A2A',
          '#7E3F66']

PROD_TICKS = [0, 50, 100, 150, 200]
PROD_TICK_LABELS = ['0 t', '50 million t', '100 million t', '150 million t', '200 million t']
YIELD_TICKS = [0, 2, 4, 6, 8, 10]
YIELD_TICK_LABELS = ['0 t/ha', '2 t/ha', '4 t/ha', '6 t/ha', '8 t/ha', '10 t/ha']
YEAR_TICKS = [1961, 1970, 1980, 1990, 2000, 2010, 2022]

W, H = 1328, 682
TEXT_GREY = '#6b6b6b'


def fig_box(x0, y0, x1, y1):
    # pixel box (top-left origin) -> figure fraction rect
    return [x0 / W, (H - y1) / H, (x1 - x0) / W, (y1 - y0) / H]


def valid_points(vals):
    arr = np.array([np.nan if v is None else v for v in vals], dtype=float)
    idx = np.where(~np.isnan(arr))[0]
    return arr, idx


def style_axis(ax, ticks, tick_labels):
    for s in ['top', 'right', 'left']:
        ax.spines[s].set_visible(False)
    ax.spines['bottom'].set_color('#bdbdbd')
    ax.spines['bottom'].set_linewidth(0.9)
    ax.set_xlim(1961, 2022)
    ax.set_xticks(YEAR_TICKS)
    ax.set_xticklabels([str(y) for y in YEAR_TICKS], fontsize=7.0, color=TEXT_GREY)
    labs = ax.get_xticklabels()
    labs[0].set_ha('left')
    labs[-1].set_ha('right')
    ax.tick_params(axis='x', length=3.5, color='#bdbdbd', pad=2)
    ax.set_yticks(ticks)
    ax.set_yticklabels(tick_labels, fontsize=7.0, color=TEXT_GREY)
    ax.tick_params(axis='y', length=0, pad=3)
    for t in ticks[1:]:
        ax.axhline(t, color='#e3e3e3', lw=0.8, ls=(0, (3, 2)), zorder=0)
    ax.patch.set_alpha(0)


def draw_lines(ax, series, lw):
    ends = []
    for vals, color in zip(series, COLORS):
        arr, idx = valid_points(vals)
        x = np.array(YEARS)[idx]
        ax.plot(x, arr[idx], color=color, lw=lw, alpha=0.92,
                solid_joinstyle='round', zorder=2)
        ends.append(arr[idx[-1]])
    return ends


def draw_labels(ax, names, ends, label_y, x0, xb, x1, xt):
    for name, yv, yl in zip(names, ends, label_y):
        i = COUNTRIES.index(name)
        ax.plot([x0, xb, xb, x1], [yv, yv, yl, yl], color='#cfcfcf', lw=0.7,
                clip_on=False, zorder=1)
        ax.text(xt, yl, name, color=COLORS[i], fontsize=7.4, va='center',
                ha='left', clip_on=False)


fig = plt.figure(figsize=(W / 100, H / 100), dpi=100)
fig.patch.set_facecolor('#d9d9d9')

# card with a soft drop shadow, kept behind the axes
fig.add_artist(Rectangle((59 / W, (H - 645) / H), 1219 / W, 583 / H, zorder=-3,
                         transform=fig.transFigure, facecolor='#bcbcbc', edgecolor='none'))
fig.add_artist(Rectangle((57 / W, (H - 642) / H), 1219 / W, 582 / H, zorder=-2,
                         transform=fig.transFigure, facecolor='white', edgecolor='none'))
# outer frame
fig.add_artist(Line2D([5 / W, 5 / W, 1326 / W, 1326 / W], [0, (H - 12) / H, (H - 12) / H, 0],
                      transform=fig.transFigure, color='#3a3a3a', lw=1.2, zorder=-1))
# divider between the two panels
fig.add_artist(Line2D([664 / W, 664 / W], [(H - 577) / H, (H - 125) / H],
                      transform=fig.transFigure, color='#ababab', lw=1.8, zorder=-1))

# left panel: production
ax1 = fig.add_axes(fig_box(136, 206, 553, 489))
ax1.set_ylim(0, 215)
style_axis(ax1, PROD_TICKS, PROD_TICK_LABELS)
prod_ends = draw_lines(ax1, PRODUCTION, 1.4)
prod_label_y = [prod_ends[0], prod_ends[1]] + [151.4 - 6.91 * k for k in range(23)]
draw_labels(ax1, COUNTRIES, prod_ends, prod_label_y, 2022.4, 2023.1, 2025.4, 2025.7)

# right panel: yield
ax2 = fig.add_axes(fig_box(724, 206, 1170, 483))
ax2.set_ylim(0, 10.3)
style_axis(ax2, YIELD_TICKS, YIELD_TICK_LABELS)
yield_ends = draw_lines(ax2, YIELDS, 1.05)
yield_order = sorted(range(len(COUNTRIES)), key=lambda i: -yield_ends[i])
yield_names = [COUNTRIES[i] for i in yield_order]
yield_vals = [yield_ends[i] for i in yield_order]
yield_label_y = [9.0 - 0.356 * k for k in range(len(yield_names))]
draw_labels(ax2, yield_names, yield_vals, yield_label_y, 2022.3, 2023.2, 2025.0, 2025.3)

fig.savefig('out.png', dpi=100)
